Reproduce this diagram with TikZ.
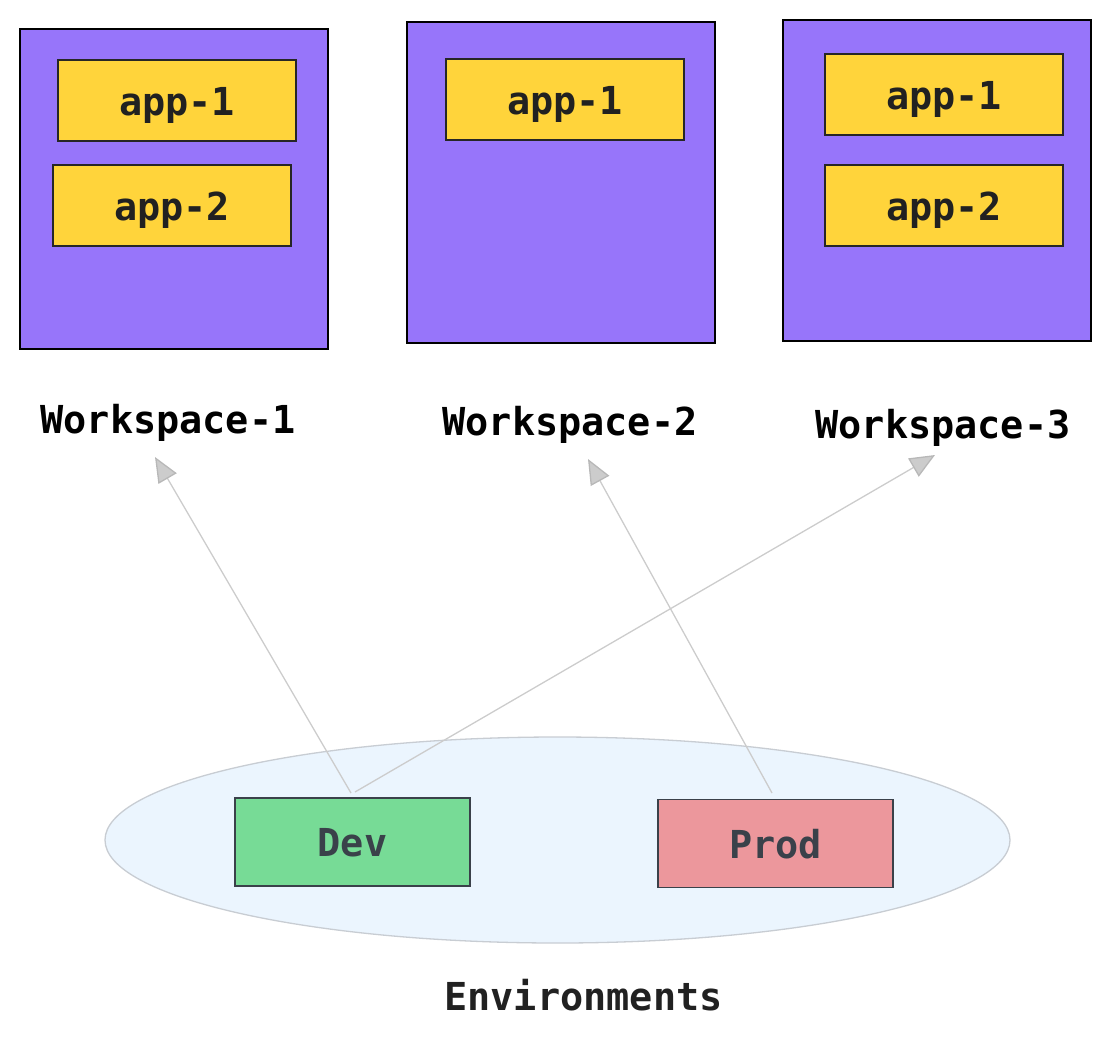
\documentclass[tikz,border=0pt]{standalone}
\usepackage{fontspec}
\setmonofont{DejaVu Sans Mono}
\usetikzlibrary{arrows.meta,shapes.geometric}
\definecolor{wsfill}{HTML}{9775FA}
\definecolor{appfill}{HTML}{FFD43B}
\definecolor{devfill}{HTML}{77DB96}
\definecolor{prodfill}{HTML}{EC979C}
\definecolor{envfill}{HTML}{EBF5FE}
\definecolor{envline}{HTML}{C8CDD3}
\definecolor{arrline}{HTML}{CCCCCC}
\definecolor{envtext}{HTML}{3A414A}
\tikzset{
  txt/.style={font=\fontsize{38.5}{44}\selectfont\ttfamily\bfseries, text height=29pt, text depth=0pt},
  wsbox/.style={draw=black, line width=1.5pt, fill=wsfill},
  appbox/.style={txt, draw=black!85, line width=1.3pt, fill=appfill, minimum width=238pt, minimum height=81pt, inner sep=0pt, text=black!87},
  wslabel/.style={txt, inner sep=0pt, text=black},
  envbox/.style={txt, draw=envtext, line width=1.3pt, minimum width=235pt, minimum height=88pt, inner sep=0pt, text=envtext},
  conn/.style={draw=arrline, line width=1.3pt, -{Triangle[length=25pt, width=21pt, fill=black!20, color=black!28]}},
}
\begin{document}
\begin{tikzpicture}[x=1pt, y=-1pt]
\useasboundingbox (0,0) rectangle (1111,1039);
% workspaces
\draw[wsbox] (20,29) rectangle (328,349);
\draw[wsbox] (407,22) rectangle (715,343);
\draw[wsbox] (783,20) rectangle (1091,341);
\node[appbox] (w1a1) at (177,100.5) {app-1};
\node[appbox] (w1a2) at (172,205.5) {app-2};
\node[appbox] (w2a1) at (565,99.5) {app-1};
\node[appbox] (w3a1) at (944,94.5) {app-1};
\node[appbox] (w3a2) at (944,205.5) {app-2};
\node[wslabel] (ws1) at (168,418.5) {Workspace-1};
\node[wslabel] (ws2) at (570,420.5) {Workspace-2};
\node[wslabel] (ws3) at (943,423.5) {Workspace-3};
% environments
\node[draw=envline, line width=1.3pt, fill=envfill, ellipse, minimum width=905pt, minimum height=206pt, inner sep=0pt] (envs) at (557.5,840) {};
\node[envbox, fill=devfill] (dev) at (352.5,842) {Dev};
\node[envbox, fill=prodfill] (prod) at (775.5,843.5) {Prod};
\node[txt, inner sep=0pt, text=black!87] (envlabel) at (583.5,995.5) {Environments};
% connectors
\coordinate (devA) at (351,793);
\coordinate (devB) at (355,792);
\coordinate (prodA) at (772,793);
\coordinate (t1) at (155,457);
\coordinate (t3) at (935,455);
\coordinate (t2) at (588,459);
\draw[conn] (devA) -- (t1);
\draw[conn] (devB) -- (t3);
\draw[conn] (prodA) -- (t2);
\end{tikzpicture}
\end{document}
